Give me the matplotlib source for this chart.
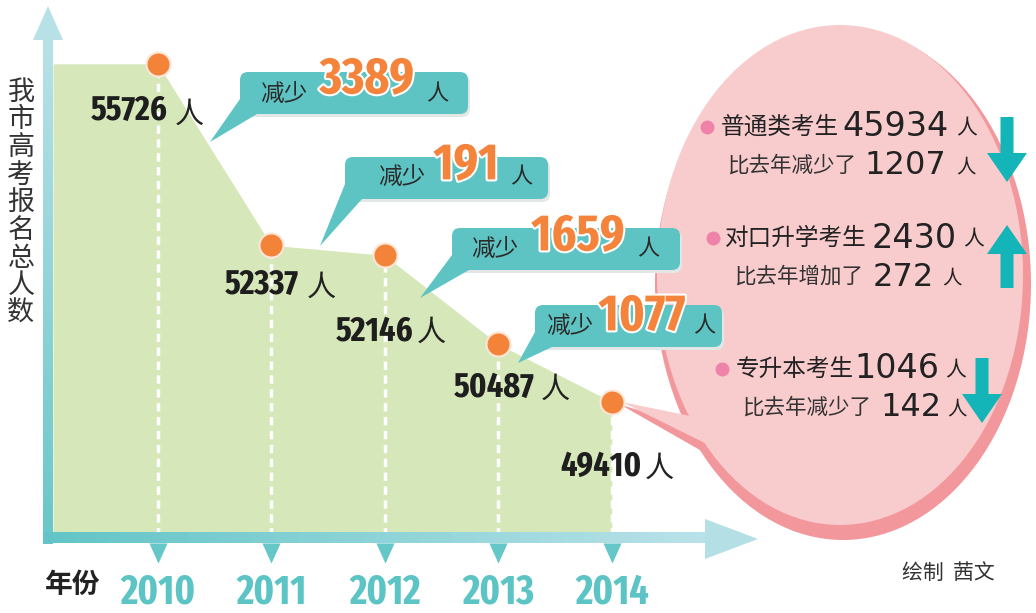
import os
import numpy as np
import matplotlib
matplotlib.use('Agg')
import matplotlib.pyplot as plt
from matplotlib import font_manager
from matplotlib.font_manager import FontProperties
from matplotlib import patheffects as pe
from matplotlib import transforms as mtrans
from matplotlib.colors import to_rgb
from matplotlib.patches import Polygon, FancyBboxPatch, Ellipse, Rectangle

# ---------------- data ----------------
years = [2010, 2011, 2012, 2013, 2014]
totals = [55726, 52337, 52146, 50487, 49410]
drops = [int(d) for d in -np.diff(totals)]          # 3389, 191, 1659, 1077
cat_names = ['普通类考生', '对口升学考生', '专升本考生']
cat_counts = [45934, 2430, 1046]
cat_change = [-1207, 272, -142]
y_title = '我市高考报名总人数'
x_title = '年份'
credit = '绘制  茜文'
unit = '人'
drop_word = '减少'

# ---------------- fonts ----------------
CJK = ['Noto Sans CJK SC', 'DejaVu Sans']


def pick_condensed():
    best, best_score = None, -1
    for f in font_manager.fontManager.ttflist:
        fn = os.path.basename(f.fname).lower().replace('-', '').replace('_', '')
        if 'italic' in fn or 'oblique' in fn:
            continue
        if not ('condensed' in fn or 'narrow' in fn):
            continue
        if 'bold' not in fn and 'black' not in fn and 'heavy' not in fn:
            continue
        score = 0
        if 'extracondensed' in fn:
            score += 30
        elif 'semicondensed' in fn:
            score += 10
        else:
            score += 20
        if 'extrabold' in fn or 'black' in fn:
            score += 3
        elif 'semibold' in fn:
            score += 1
        elif 'bold' in fn:
            score += 5
        if 'noto' in fn:
            score += 2
        if score > best_score:
            best, best_score = f.fname, score
    return best


cond_path = pick_condensed()
if cond_path:
    def NUM(size):
        fp = FontProperties(fname=cond_path)
        fp.set_size(size)
        return dict(fontproperties=fp)
else:
    def NUM(size):
        return dict(family='DejaVu Sans', fontweight='bold', fontsize=size * 0.72)

# ---------------- figure / mapping ----------------
W, H = 1036, 613
fig = plt.figure(figsize=(W / 100, H / 100), dpi=100)
fig.patch.set_facecolor('white')
ax = fig.add_axes([0, 0, 1, 1])
ax.set_axis_off()

X0, XS = 384.8, 113.5      # pixel x of 2012, pixels per year
YA, YB = 3046.0, 0.053515  # pixel y = YA - YB * value
ax.set_xlim(2012 - X0 / XS, 2012 + (W - X0) / XS)
ax.set_ylim((YA - H) / YB, YA / YB)


def val_of_py(py):
    return (YA - py) / YB


def year_of_px(px):
    return 2012 + (px - X0) / XS


PX = mtrans.Affine2D().scale(1 / W, -1 / H).translate(0, 1) + fig.transFigure
BX = mtrans.blended_transform_factory(ax.transData, PX)

# ---------------- area + guides ----------------
xf = [year_of_px(53)] + years
yf = [totals[0]] + totals
ax.fill_between(xf, yf, val_of_py(536), color='#d6e7ba', lw=0, zorder=1)
ax.vlines(years, val_of_py(536), totals, colors='white', lw=2.5,
          linestyles=(0, (2.4, 1.6)), zorder=2)


# ---------------- axis arrows ----------------
def grad_bar(x0, x1, y0, y1, c0, c1, n=60, vertical=True, z=4):
    c0 = np.array(to_rgb(c0)); c1 = np.array(to_rgb(c1))
    for i in range(n):
        t = i / (n - 1)
        col = c0 * (1 - t) + c1 * t
        if vertical:
            ya = y0 + (y1 - y0) * i / n
            yb = y0 + (y1 - y0) * (i + 1) / n
            ax.add_patch(Rectangle((x0, ya), x1 - x0, (yb - ya) + 0.6, transform=PX,
                                   fc=col, ec='none', zorder=z))
        else:
            xa = x0 + (x1 - x0) * i / n
            xb = x0 + (x1 - x0) * (i + 1) / n
            ax.add_patch(Rectangle((xa, y0), (xb - xa) + 0.6, y1 - y0, transform=PX,
                                   fc=col, ec='none', zorder=z))


grad_bar(43, 53, 38, 543, '#b7e1e7', '#68c6c8', vertical=True)
ax.add_patch(Polygon([(33, 40), (63, 40), (48, 6)], closed=True, transform=PX,
                     fc='#b7e1e7', ec='none', zorder=4))
grad_bar(43, 707, 532, 543, '#62c4c6', '#b8e2e8', vertical=False)
ax.add_patch(Polygon([(705, 519), (705, 559), (758, 539)], closed=True, transform=PX,
                     fc='#b3dfe5', ec='none', zorder=4))

tri = [(-0.45, 0.5), (0.45, 0.5), (0.0, -0.5), (-0.45, 0.5)]
ax.scatter(years, [553] * len(years), transform=BX, marker=tri, s=210,
           color='#66c7c9', lw=0, zorder=4)
for yr in years:
    ax.text(yr, 592, str(yr), transform=BX, ha='center', va='center',
            color='#5dc4c6', zorder=5, **NUM(29.5))

# ---------------- y title / x title / credit ----------------
for i, ch in enumerate(y_title):
    ax.text(21, 92 + i * 27.7, ch, transform=PX, ha='center', va='center',
            fontsize=19.5, family=CJK, color='#333333', zorder=5)
ax.text(73, 585, x_title, transform=PX, ha='center', va='center', fontsize=20,
        family=CJK, fontweight='bold', color='#222222', zorder=5)
ax.text(948, 573, credit, transform=PX, ha='center', va='center', fontsize=15,
        family=CJK, color='#333333', zorder=5)

# ---------------- data points + value labels ----------------
ax.scatter(years, totals, s=300, color='#f4833a', edgecolors='#fde6d6',
           linewidths=1.5, zorder=8)
lab_num = [(129.5, 111), (262, 285), (374.5, 331), (494.5, 388), (601.5, 467)]
lab_ren = [(189, 115), (321, 288), (431, 333), (555, 390), (659, 469)]
for yr, v, (nx, ny), (rx, ry) in zip(years, totals, lab_num, lab_ren):
    ax.annotate(f'{v}', xy=(yr, v), xytext=(nx, ny), textcoords=PX,
                ha='center', va='center', color='#1e1e1e', zorder=9, **NUM(25))
    ax.text(rx, ry, unit, transform=PX, ha='center', va='center', fontsize=21,
            family=CJK, color='#222222', zorder=9)

# ---------------- pink ellipse panel ----------------
RED, PINK = '#f2979b', '#f8cbcd'
ax.add_patch(Ellipse((843, 284), 376, 512, transform=PX, fc=RED, ec='none', zorder=3))
ax.add_patch(Polygon([(621, 405), (700, 428), (735, 470)], closed=True, transform=PX,
                     fc=RED, ec='none', zorder=3))
ax.add_patch(Ellipse((840, 275), 366, 500, transform=PX, fc=PINK, ec='none', zorder=3.1))
ax.add_patch(Polygon([(622, 402), (700, 418), (735, 458)], closed=True, transform=PX,
                     fc=PINK, ec='none', zorder=3.1))

line1_y = [127, 238, 369]
line2_y = [166, 277, 408]
dot_x = [707, 713, 722]
name_cx = [780, 796, 795]
num1_cx = [895, 914, 897]
ren1_cx = [967, 974, 956]
txt2_cx = [792, 799, 807]
num2_cx = [905, 903, 911]
ren2_cx = [966, 952, 957]
arrow_x = [1007, 1007, 982]
arrow_y = [(117, 182), (225, 288), (358, 423)]

for i in range(3):
    ax.scatter([dot_x[i]], [line1_y[i]], transform=PX, s=100, color='#ee82a8',
               lw=0, zorder=7)
    ax.text(name_cx[i], line1_y[i], cat_names[i], transform=PX, ha='center',
            va='center', fontsize=17, family=CJK, color='#222222', zorder=7)
    ax.text(num1_cx[i], line1_y[i], f'{cat_counts[i]}', transform=PX, ha='center',
            va='center', fontsize=24, family='DejaVu Sans', color='#222222', zorder=7)
    ax.text(ren1_cx[i], line1_y[i] + 1, unit, transform=PX, ha='center', va='center',
            fontsize=15, family=CJK, color='#222222', zorder=7)
    word = '比去年减少了' if cat_change[i] < 0 else '比去年增加了'
    ax.text(txt2_cx[i], line2_y[i], word, transform=PX, ha='center', va='center',
            fontsize=15.5, family=CJK, color='#333333', zorder=7)
    ax.text(num2_cx[i], line2_y[i], f'{abs(cat_change[i])}', transform=PX, ha='center',
            va='center', fontsize=23, family='DejaVu Sans', color='#222222', zorder=7)
    ax.text(ren2_cx[i], line2_y[i] + 1, unit, transform=PX, ha='center', va='center',
            fontsize=14, family=CJK, color='#222222', zorder=7)
    # direction arrows
    axx, (ya, yb) = arrow_x[i], arrow_y[i]
    hl, hw, sw = 29, 20, 6.5
    if cat_change[i] < 0:
        pts = [(axx - sw, ya), (axx + sw, ya), (axx + sw, yb - hl), (axx + hw, yb - hl),
               (axx, yb), (axx - hw, yb - hl), (axx - sw, yb - hl)]
    else:
        pts = [(axx - sw, yb), (axx + sw, yb), (axx + sw, ya + hl), (axx + hw, ya + hl),
               (axx, ya), (axx - hw, ya + hl), (axx - sw, ya + hl)]
    ax.add_patch(Polygon(pts, closed=True, transform=PX, fc='#13b5b8', ec='none', zorder=7))

# ---------------- teal callout bubbles ----------------
bubbles = [  # x0, x1, ytop, ybot, tip, cx_word, cx_num, cy_num, cx_ren, cy_txt
    (240, 468, 72, 114, (210, 142), 284, 367, 80, 437, 94),
    (345, 548, 157, 199, (320, 246), 402, 466, 166, 521, 177),
    (452, 680, 228, 270, (420, 298), 495, 578, 237, 648, 249),
    (535, 722, 305, 347, (518, 363), 570, 642, 317, 704, 326),
]
TEAL = '#5ec4c3'
for d, (x0, x1, yt, yb, tip, cw, cn, cyn, cr, cyt) in zip(drops, bubbles):
    ax.add_patch(FancyBboxPatch((x0 + 2, yt + 3), x1 - x0, yb - yt,
                                boxstyle='round,pad=0,rounding_size=8', transform=PX,
                                fc='#e3e6e6', ec='none', zorder=4.9))
    ax.add_patch(FancyBboxPatch((x0, yt), x1 - x0, yb - yt,
                                boxstyle='round,pad=0,rounding_size=8', transform=PX,
                                fc=TEAL, ec='none', zorder=5))
    ax.add_patch(Polygon([(x0, yb - 15), (x0 + 17, yb), tip], closed=True, transform=PX,
                         fc=TEAL, ec='none', zorder=5))
    ax.text(cw, cyt, drop_word, transform=PX, ha='center', va='center', fontsize=17,
            family=CJK, color='#2b2b2b', zorder=6)
    ax.text(cn, cyn, f'{d}', transform=PX, ha='center', va='center',
            color='#f4833b', zorder=6,
            path_effects=[pe.withStroke(linewidth=3, foreground='white')], **NUM(37))
    ax.text(cr, cyt, unit, transform=PX, ha='center', va='center', fontsize=16,
            family=CJK, color='#2b2b2b', zorder=6)

fig.savefig('out.png', dpi=100, facecolor='white')
